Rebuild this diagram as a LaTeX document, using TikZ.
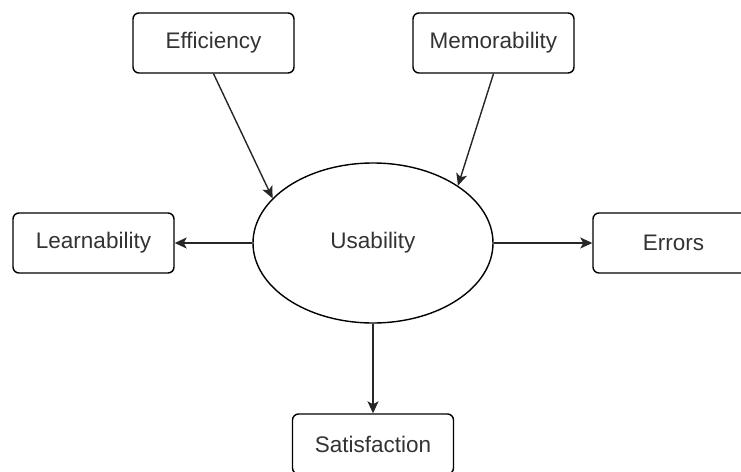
\documentclass[tikz,border=0pt]{standalone}
\usepackage{fontspec}
\setmainfont{Liberation Sans}
\usetikzlibrary{arrows.meta,shapes.geometric}
\definecolor{txt}{HTML}{333333}
\tikzset{
  box/.style={draw=black,line width=1.4pt,rounded corners=6pt,minimum width=161pt,minimum height=60pt,inner sep=0pt,font=\fontsize{22.5}{26}\selectfont,text=txt,fill=white},
  oval/.style={draw=black,line width=1.4pt,ellipse,minimum width=240pt,minimum height=160pt,inner sep=0pt,font=\fontsize{22.5}{26}\selectfont,text=txt,fill=white},
  conn/.style={draw=black!85,line width=1.4pt,-{Stealth[length=12pt,width=11pt,inset=3pt]}}
}
\begin{document}
\begin{tikzpicture}[x=1pt,y=-1pt]
\useasboundingbox (0,0) rectangle (741,471);
\clip (0,0) rectangle (741,471);
\fill[white] (0,0) rectangle (741,471);
\node[box] (eff) at (213.5,43) {Efficiency};
\node[box] (mem) at (493.5,43) {Memorability};
\node[box] (learn) at (93.5,243) {Learnability};
\node[box] (err) at (673.5,243) {Errors};
\node[box] (sat) at (373,444) {Satisfaction};
\node[oval] (use) at (373,243) {Usability};
\draw[conn] (eff.south) -- (use.156);
\draw[conn] (mem.south) -- (use.34);
\draw[conn] (use.west) -- (learn.east);
\draw[conn] (use.east) -- (err.west);
\draw[conn] (use.south) -- (sat.north);
\end{tikzpicture}
\end{document}
